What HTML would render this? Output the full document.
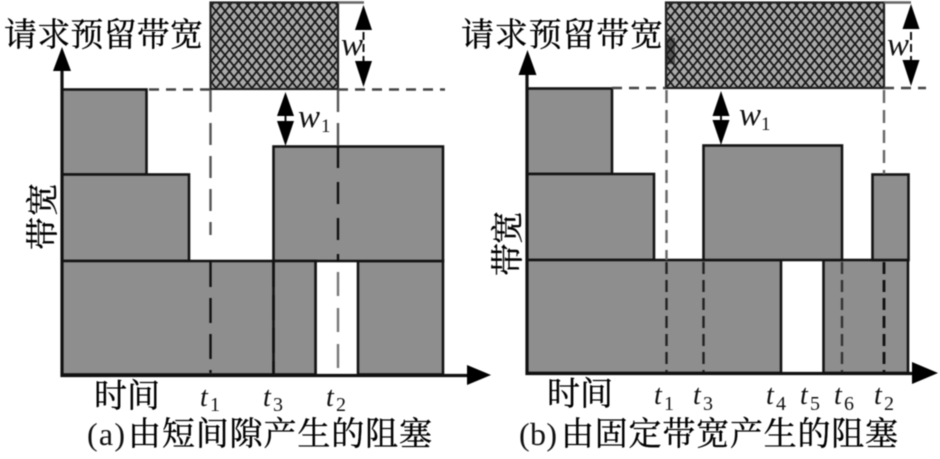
<!DOCTYPE html>
<html><head><meta charset="utf-8">
<style>
html,body{margin:0;padding:0;background:#fff;width:940px;height:459px;overflow:hidden}
svg{display:block;filter:blur(.55px)}
.cn{font-family:"Liberation Serif","Noto Serif CJK SC",serif;fill:#000;stroke:#000;stroke-width:.35}
.it{font-family:"Liberation Serif",serif;font-style:italic;fill:#111}
.sub{font-family:"Liberation Serif",serif;fill:#111}
</style></head><body>
<svg width="940" height="459" viewBox="0 0 940 459" xmlns="http://www.w3.org/2000/svg">
<defs>
<pattern id="h" width="9" height="11" patternUnits="userSpaceOnUse">
<rect width="9" height="11" fill="#aaaaaa"/>
<path d="M0 0L9 11M9 0L0 11M-4.500 5.500L0 11M4.500 -5.500L13.500 5.500M4.500 16.500L13.500 5.500M-4.500 5.500L4.500 -5.500" stroke="#1a1a1a" stroke-width="1.800" fill="none"/>
</pattern>
</defs>
<g stroke="#141414" stroke-width="2.600" fill="#8e8e8e">
<rect x="62" y="89.500" width="84.500" height="85"/>
<rect x="62" y="174.500" width="127" height="86.500"/>
<rect x="62" y="261" width="253.500" height="113.500"/>
<rect x="358" y="261" width="85" height="113.500"/>
<rect x="273.500" y="146.500" width="169.500" height="114.500"/>
<rect x="273.500" y="261" width="42" height="113.500"/>
<rect x="527" y="88.500" width="85" height="85.500"/>
<rect x="527" y="174" width="127" height="86"/>
<rect x="527" y="260" width="254" height="113"/>
<rect x="823.500" y="260" width="84.500" height="113"/>
<rect x="703.500" y="145.500" width="138.500" height="114.500"/>
<rect x="872.500" y="174.500" width="36" height="85.500"/>
</g>
<rect x="210.500" y="2.500" width="127.500" height="86.500" fill="url(#h)" stroke="#222" stroke-width="2.200"/>
<rect x="666" y="2.500" width="218" height="85.500" fill="url(#h)" stroke="#222" stroke-width="2.200"/>
<rect x="667" y="38" width="8" height="26" fill="#111" opacity=".55"/>
<g fill="none" stroke="#333" stroke-width="2.400">
<path d="M149 89.500H210M338 89.500H445" stroke-dasharray="10 7" stroke="#444"/>
<path d="M612 88H666M884 88H926" stroke-dasharray="10 7" stroke="#444"/>
<path d="M338 2.500H364M884 2.500H911" stroke="#666"/>
<path d="M210.500 90V235" stroke="#555" stroke-dasharray="22 11"/>
<path d="M210.500 262V373" stroke="#111" stroke-dasharray="25 11"/>
<path d="M338 90V145" stroke="#555" stroke-dasharray="22 11"/>
<path d="M338 146V262" stroke="#111" stroke-dasharray="22 14"/>
<path d="M338 272V372" stroke="#777" stroke-dasharray="24 12"/>
<path d="M273.500 262V373" stroke="#111" stroke-dasharray="25 8"/>
<path d="M666.500 90V260" stroke="#666" stroke-dasharray="13 7"/>
<path d="M666.500 262V373" stroke="#222" stroke-dasharray="12 6"/>
<path d="M703.500 262V373" stroke="#222" stroke-dasharray="12 6"/>
<path d="M884 90V174" stroke="#666" stroke-dasharray="13 7"/>
<path d="M884 262V373" stroke="#111" stroke-width="2.800" stroke-dasharray="12 6"/>
<path d="M842 262V373" stroke="#333" stroke-dasharray="12 6"/>
</g>
<g stroke="#111" fill="none">
<path d="M62 66V375.500H470" stroke-width="3.200"/>
<path d="M527 70V373.500H920" stroke-width="3.200"/>
<path d="M363.500 20V72" stroke-width="2" stroke-dasharray="8 4"/>
<path d="M911 20V72" stroke-width="2" stroke-dasharray="8 4"/>
<path d="M285.500 100V136M721 100V136" stroke-width="2"/>
</g>
<g fill="#000">
<path d="M62 47L71 71H53Z"/>
<path d="M527.500 50L536.500 75H518.500Z"/>
<path d="M491 375L467 365V385Z"/>
<path d="M938 373L912 362V384Z"/>
<path d="M363.500 5L372 30H355Z"/><path d="M363.500 87L355 61H372Z"/>
<path d="M911 4L919.500 29H902.500Z"/><path d="M911 86L902.500 60H919.500Z"/>
<path d="M285.500 92L294 116H277Z"/><path d="M285.500 146L277 121H294Z"/>
<path d="M721 91L729.500 116H712.500Z"/><path d="M721 145L712.500 120H729.500Z"/>
</g>
<text class="cn" x="4" y="46" font-size="33" textLength="199" lengthAdjust="spacing">请求预留带宽</text>
<text class="cn" x="461" y="46" font-size="33" textLength="202" lengthAdjust="spacing">请求预留带宽</text>
<text class="cn" font-size="33" transform="translate(54 250) rotate(-90)" textLength="67">带宽</text>
<text class="cn" font-size="33" transform="translate(519 276) rotate(-90)" textLength="65">带宽</text>
<text class="it" x="341" y="55" font-size="33">w</text>
<text class="it" x="887" y="55" font-size="33">w</text>
<text class="it" x="298" y="127" font-size="33">w</text>
<text class="sub" x="321" y="132" font-size="19">1</text>
<text class="it" x="739" y="125" font-size="33">w</text>
<text class="sub" x="761" y="130" font-size="19">1</text>
<text class="cn" x="94" y="407" font-size="33" textLength="66">时间</text>
<text class="cn" x="547" y="405" font-size="33" textLength="66">时间</text>
<text class="it" x="200" y="406" font-size="28">t</text><text class="sub" x="210" y="411" font-size="20">1</text>
<text class="it" x="263" y="406" font-size="28">t</text><text class="sub" x="273" y="411" font-size="20">3</text>
<text class="it" x="326" y="406" font-size="28">t</text><text class="sub" x="336" y="411" font-size="20">2</text>
<text class="it" x="654" y="404" font-size="28">t</text><text class="sub" x="664" y="410" font-size="20">1</text>
<text class="it" x="693" y="404" font-size="28">t</text><text class="sub" x="703" y="410" font-size="20">3</text>
<text class="it" x="766" y="404" font-size="28">t</text><text class="sub" x="776" y="410" font-size="20">4</text>
<text class="it" x="800" y="404" font-size="28">t</text><text class="sub" x="810" y="410" font-size="20">5</text>
<text class="it" x="834" y="404" font-size="28">t</text><text class="sub" x="844" y="410" font-size="20">6</text>
<text class="it" x="874" y="404" font-size="28">t</text><text class="sub" x="884" y="410" font-size="20">2</text>
<text class="sub" x="87" y="445" font-size="32" textLength="38">(a)</text>
<text class="cn" x="128" y="445" font-size="33" textLength="304">由短间隙产生的阻塞</text>
<text class="sub" x="519" y="445" font-size="32" textLength="38">(b)</text>
<text class="cn" x="561" y="445" font-size="33" textLength="337">由固定带宽产生的阻塞</text>
</svg>
</body></html>
